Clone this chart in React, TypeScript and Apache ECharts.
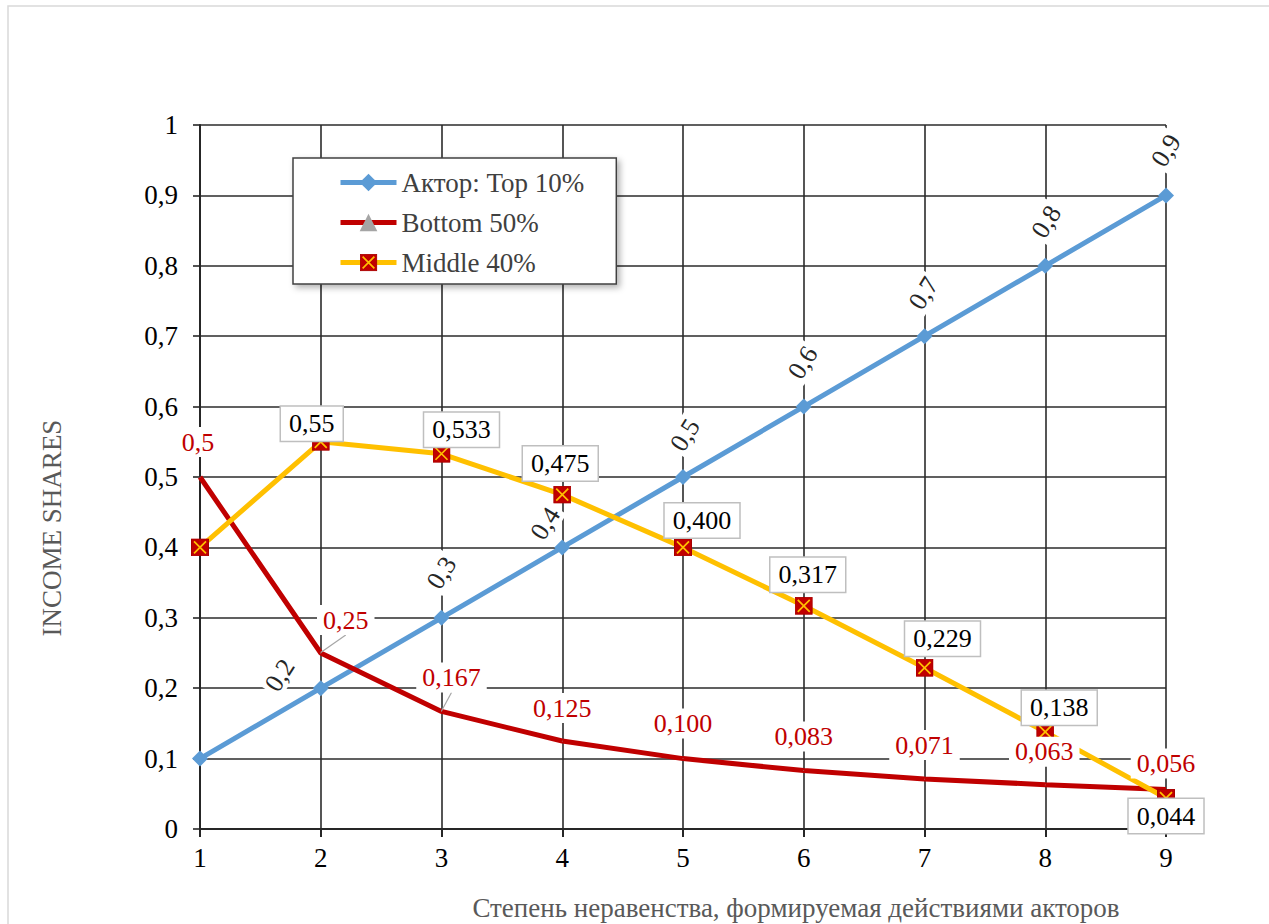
import React, { useEffect, useRef } from 'react';
import * as echarts from 'echarts';

// Inequality steps on the horizontal axis
const steps = [1, 2, 3, 4, 5, 6, 7, 8, 9];

// Income shares per group
const topShare = [0.1, 0.2, 0.3, 0.4, 0.5, 0.6, 0.7, 0.8, 0.9];
const bottomShare = [0.5, 0.25, 0.167, 0.125, 0.1, 0.083, 0.071, 0.063, 0.056];
const middleShare = [0.4, 0.55, 0.533, 0.475, 0.4, 0.317, 0.229, 0.138, 0.044];

// Decimals shown in each data label (null = label hidden)
const topDecimals = [null, 1, 1, 1, 1, 1, 1, 1, 1];
const bottomDecimals = [1, 2, 3, 3, 3, 3, 3, 3, 3];
const middleDecimals = [null, 2, 3, 3, 3, 3, 3, 3, 3];

const seriesNames = ['Актор: Top 10%', 'Bottom 50%', 'Middle 40%'];
const xAxisTitle = 'Степень неравенства, формируемая действиями акторов';
const yAxisTitle = 'INCOME SHARES';

// Label displacement from each point on screen (px)
const topLabelShift = [[0, 0], [-41, -13], [0, -45], [-17, -24], [2, -42], [-1, -44], [-1, -43], [1, -44], [0, -45]];
const bottomLabelShift = [[-2, -35], [25, -33], [10, -34], [0, -33], [0, -35], [0, -34], [0, -34], [-1, -33], [0, -26]];
const middleLabelShift = [[0, 0], [-9, -18], [20, -24], [-2, -31], [19, -27], [4, -31], [18, -29], [14, -24], [0, 18]];
const bottomLeaderLines = [1, 2];

const TOP_LABEL_ROTATE = 58;
const FS = 27;
const LABEL_FS = 26;

const FONT = "'Liberation Serif', 'Times New Roman', serif";

const commaNum = (v: number, d: number) => v.toFixed(d).replace('.', ',');

const markerSvg =
  '<svg xmlns="http://www.w3.org/2000/svg" width="18" height="18" viewBox="0 0 18 18">' +
  '<rect x="0.5" y="0.5" width="17" height="17" fill="#c00000" stroke="#a80000" stroke-width="1"/>' +
  '<path d="M3 3L15 15M15 3L3 15" stroke="#ffc000" stroke-width="1.7"/></svg>';
const middleSymbol = 'image://data:image/svg+xml;charset=utf-8,' + encodeURIComponent(markerSvg);

export default function App() {
  const ref = useRef<HTMLDivElement>(null);

  useEffect(() => {
    if (!ref.current) return;
    const chart = echarts.init(ref.current, undefined, { renderer: 'svg' });

    const topData = topShare.map((v, i) => ({
      value: [steps[i], v],
      label: { show: topDecimals[i] != null },
    }));
    const bottomData = bottomShare.map((v, i) => ({
      value: [steps[i], v],
      labelLine: { show: bottomLeaderLines.includes(i) },
    }));
    const middleData = middleShare.map((v, i) => ({
      value: [steps[i], v],
      label: { show: middleDecimals[i] != null },
    }));

    // dx/dy act in the label's own (rotated) frame, so convert screen shifts
    const shiftLayout = (shift: number[][], rotateDeg = 0) => (p: any) => {
      const [sx, sy] = shift[p.dataIndex];
      const t = (rotateDeg * Math.PI) / 180;
      return {
        dx: sx * Math.cos(t) - sy * Math.sin(t),
        dy: sx * Math.sin(t) + sy * Math.cos(t),
      };
    };

    const axisColor = '#262626';

    chart.setOption({
      animation: false,
      backgroundColor: '#ffffff',
      textStyle: { fontFamily: FONT },
      grid: { left: 200, right: 103, top: 125, bottom: 95, containLabel: false },
      xAxis: {
        type: 'value',
        min: 1,
        max: 9,
        interval: 1,
        axisLine: { show: true, onZero: false, lineStyle: { color: axisColor, width: 2 } },
        axisTick: { show: true, length: 8, lineStyle: { color: axisColor, width: 2 } },
        splitLine: { show: true, lineStyle: { color: '#2b2b2b', width: 1.6 } },
        axisLabel: { fontSize: FS, color: '#000', margin: 15, fontFamily: FONT },
      },
      yAxis: {
        type: 'value',
        min: 0,
        max: 1,
        interval: 0.1,
        axisLine: { show: true, lineStyle: { color: axisColor, width: 2 } },
        axisTick: { show: true, length: 7, lineStyle: { color: axisColor, width: 1.6 } },
        splitLine: { show: true, lineStyle: { color: '#2b2b2b', width: 1.6 } },
        axisLabel: {
          fontSize: FS,
          color: '#000',
          margin: 22,
          fontFamily: FONT,
          formatter: (v: number) => String(Math.round(v * 10) / 10).replace('.', ','),
        },
      },
      legend: {
        orient: 'vertical',
        left: 293,
        top: 158,
        data: seriesNames,
        itemWidth: 56,
        itemHeight: 22,
        itemGap: 13,
        padding: [11, 32, 8, 45],
        backgroundColor: '#ffffff',
        borderColor: '#404040',
        borderWidth: 1.5,
        borderRadius: 0,
        shadowColor: 'rgba(0,0,0,0.3)',
        shadowBlur: 6,
        shadowOffsetX: 3,
        shadowOffsetY: 3,
        lineStyle: { width: 5 },
        textStyle: { fontSize: FS, color: '#404040', fontFamily: FONT },
      },
      series: [
        {
          name: seriesNames[0],
          type: 'line',
          data: topData,
          symbol: 'diamond',
          symbolSize: 16,
          itemStyle: { color: '#5b9bd5' },
          lineStyle: { color: '#5b9bd5', width: 5 },
          label: {
            show: true,
            position: 'inside',
            rotate: TOP_LABEL_ROTATE,
            fontSize: LABEL_FS,
            fontFamily: FONT,
            color: '#262626',
            backgroundColor: '#ffffff',
            padding: [0, 3],
            formatter: (p: any) => commaNum(p.value[1], topDecimals[p.dataIndex] ?? 1),
          },
          labelLayout: shiftLayout(topLabelShift, TOP_LABEL_ROTATE),
        },
        {
          name: seriesNames[1],
          type: 'line',
          data: bottomData,
          symbol: 'triangle',
          symbolSize: 1,
          itemStyle: { color: '#a5a5a5' },
          lineStyle: { color: '#c00000', width: 5 },
          label: {
            show: true,
            position: 'inside',
            fontSize: LABEL_FS,
            fontFamily: FONT,
            color: '#c00000',
            backgroundColor: '#ffffff',
            padding: [2, 6],
            formatter: (p: any) => commaNum(p.value[1], bottomDecimals[p.dataIndex]),
          },
          labelLine: { show: false, lineStyle: { color: '#a6a6a6', width: 1.2 } },
          labelLayout: shiftLayout(bottomLabelShift),
        },
        {
          name: seriesNames[2],
          type: 'line',
          data: middleData,
          symbol: middleSymbol,
          symbolSize: 18,
          itemStyle: { color: '#c00000' },
          lineStyle: { color: '#ffc000', width: 5 },
          label: {
            show: true,
            position: 'inside',
            fontSize: LABEL_FS,
            fontFamily: FONT,
            color: '#000000',
            backgroundColor: '#ffffff',
            borderColor: '#bfbfbf',
            borderWidth: 1.5,
            padding: [4, 8],
            formatter: (p: any) => commaNum(p.value[1], middleDecimals[p.dataIndex] ?? 3),
          },
          labelLayout: shiftLayout(middleLabelShift),
        },
      ],
      graphic: [
        {
          type: 'rect',
          silent: true,
          z: -10,
          shape: { x: 8, y: 6, width: 1400, height: 1100 },
          style: { fill: 'none', stroke: '#d9d9d9', lineWidth: 1.5 },
        },
        {
          type: 'text',
          x: 52,
          y: 528,
          rotation: Math.PI / 2,
          style: {
            text: yAxisTitle,
            fill: '#595959',
            font: `${FS}px ${FONT}`,
            textAlign: 'center',
            textVerticalAlign: 'middle',
          },
        },
        {
          type: 'text',
          x: 796,
          y: 908,
          style: {
            text: xAxisTitle,
            fill: '#595959',
            font: `${FS}px ${FONT}`,
            textAlign: 'center',
            textVerticalAlign: 'middle',
          },
        },
      ],
    });

    return () => chart.dispose();
  }, []);

  return (
    <div
      ref={ref}
      style={{ position: 'absolute', left: 0, top: 0, width: 1269, height: 924 }}
    />
  );
}
